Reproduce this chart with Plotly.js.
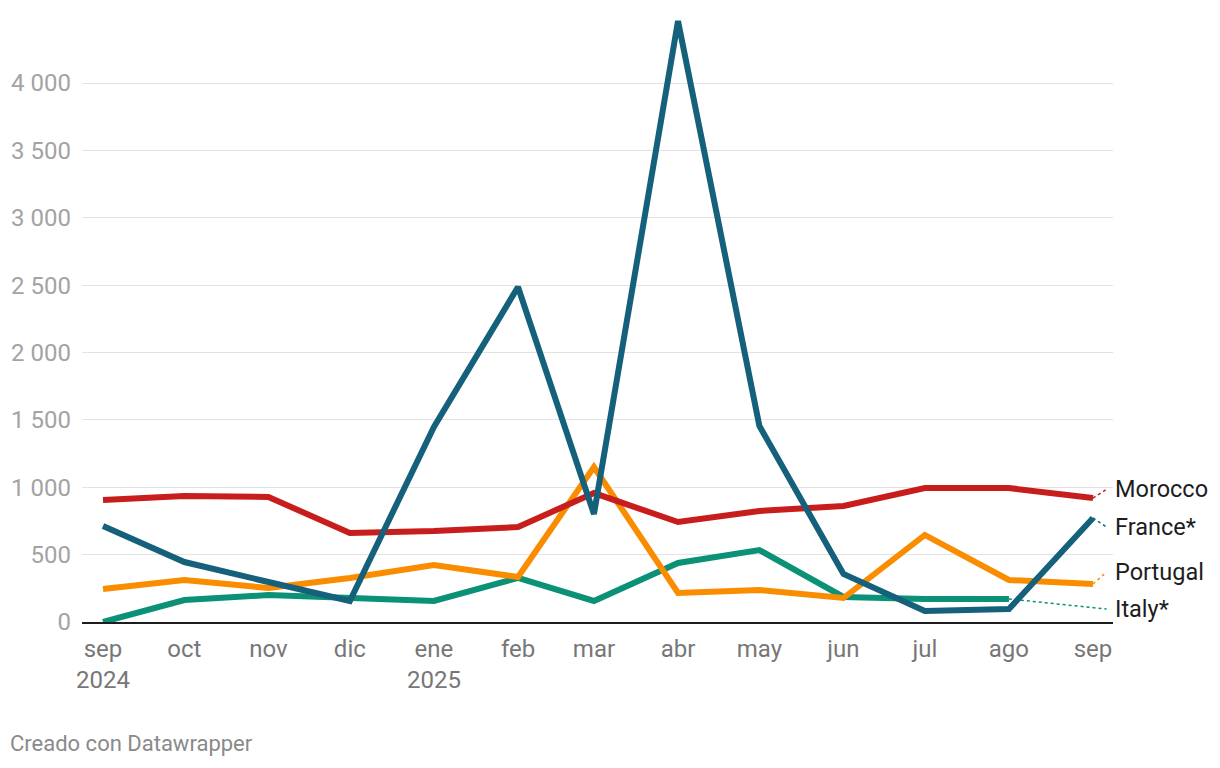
<!DOCTYPE html>
<html>
<head>
<meta charset="utf-8">
<script src="https://cdn.plot.ly/plotly-3.0.1.min.js"></script>
<style>
html,body{margin:0;padding:0;background:#fff;}
#chart{width:1220px;height:768px;}
</style>
</head>
<body>
<div id="chart"></div>
<script>
const months = ['2024-09-01','2024-10-01','2024-11-01','2024-12-01','2025-01-01','2025-02-01','2025-03-01','2025-04-01','2025-05-01','2025-06-01','2025-07-01','2025-08-01','2025-09-01'];
const tickLabels = ['sep<br>2024','oct','nov','dic','ene<br>2025','feb','mar','abr','may','jun','jul','ago','sep'];

const morocco  = [905, 935, 928, 660, 675, 705, 957, 742, 824, 861, 994, 994, 920];
const france   = [712, 445, 297, 156, 1447, 2486, 801, 4460, 1455, 356, 82, 96, 772];
const portugal = [245, 312, 252, 327, 423, 334, 1150, 215, 237, 178, 646, 312, 282];
const italy    = [0, 163, 200, 178, 156, 327, 156, 438, 534, 186, 171, 171, null];

const seriesNames = ['Italy*','Portugal','Morocco','France*'];
const seriesData = [italy, portugal, morocco, france];
const seriesColors = ['#0a9176','#fa8c00','#c71e1d','#15607a'];
// label y positions (in data units) for the direct labels at the right
const labelY = [96, 371, 985, 705];
const labelEndDate = '2025-09-06';

const traces = seriesData.map((d,i)=>({
  type:'scatter', mode:'lines', x:months, y:d, name:seriesNames[i],
  line:{color:seriesColors[i], width:6, shape:'linear'},
  cliponaxis:false, hoverinfo:'skip', connectgaps:false
}));

const shapes = [];
const annotations = [];
seriesData.forEach((d,i)=>{
  let last = d.length-1;
  while (d[last]===null) last--;
  shapes.push({type:'line', xref:'x', yref:'y', x0:months[last], y0:d[last], x1:labelEndDate, y1:labelY[i],
    line:{color:seriesColors[i], width:1.5, dash:'dot'}, layer:'below'});
  annotations.push({xref:'paper', yref:'y', x:1.0, y:labelY[i], xanchor:'left', yanchor:'middle',
    text:seriesNames[i], showarrow:false, font:{family:'Roboto', size:23.5, color:'#1d1d1d'}});
});
annotations.push({xref:'paper', yref:'paper', x:-0.072, y:-0.2, xanchor:'left', yanchor:'middle',
  text:'Creado con Datawrapper', showarrow:false, font:{family:'Roboto', size:22, color:'#8a8a8a'}});

const layout = {
  width:1220, height:768,
  margin:{l:82, r:107, t:17, b:146},
  paper_bgcolor:'#fff', plot_bgcolor:'#fff',
  showlegend:false,
  separators:', ',
  font:{family:'Roboto'},
  xaxis:{type:'date', range:['2024-08-24 06:00','2025-09-08 09:00'],
    tickmode:'array', tickvals:months, ticktext:tickLabels,
    showgrid:false, zeroline:false, showline:true, linecolor:'#1d1d1d', linewidth:2,
    ticks:'', ticklabelstandoff:4,
    tickfont:{family:'Roboto', size:24, color:'#777'}, fixedrange:true},
  yaxis:{range:[0,4490], dtick:500, tick0:0, tickformat:',d',
    showgrid:true, gridcolor:'#e3e3e3', gridwidth:1, zeroline:false, showline:false,
    ticks:'', ticklabelstandoff:10,
    tickfont:{family:'Roboto', size:24, color:'#a3a3a3'}, fixedrange:true},
  shapes:shapes,
  annotations:annotations
};

Plotly.newPlot('chart', traces, layout, {displayModeBar:false, staticPlot:true});
</script>
</body>
</html>
